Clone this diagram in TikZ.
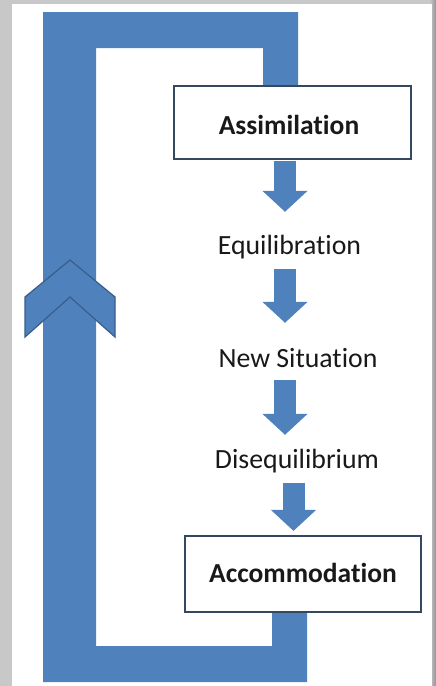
\documentclass[tikz,border=0pt]{standalone}
\usepackage{fontspec}
\setmainfont[Ligatures=NoCommon]{Carlito}
\usetikzlibrary{arrows.meta}
\definecolor{frameblue}{RGB}{79,129,189}
\definecolor{edgeblue}{RGB}{56,93,138}
\definecolor{boxedge}{RGB}{52,72,98}
\definecolor{marble}{RGB}{200,200,200}
\tikzset{
  lbl/.style={anchor=base, inner sep=0pt, text height=20pt, text depth=6pt,
    font=\fontsize{27.8}{32}\selectfont, text=black!90},
  stagebox/.style={draw=boxedge, line width=2.2pt, fill=white, inner sep=0pt},
  blockarrow/.style={draw=frameblue, line width=22pt,
    -{Triangle[width=44pt,length=21pt,fill=frameblue]}},
}
\begin{document}
\begin{tikzpicture}[x=1pt,y=-1pt]
\useasboundingbox (0,0) rectangle (436,686);
% background
\fill[marble] (0,0) rectangle (436,686);
\shade[left color=gray!45, right color=gray!85] (430,0) rectangle (436,686);
\fill[white] (12,4) rectangle (432,686);
% loop frame
\fill[frameblue] (298,90) -- (298,12) -- (43,12) -- (43,682) -- (307,682)
  -- (307,608) -- (272,608) -- (272,646) -- (96,646) -- (96,48) -- (263,48)
  -- (263,90) -- cycle;
% chevron
\filldraw[fill=frameblue, draw=edgeblue, line width=1.2pt, line join=miter]
  (70,260) -- (25,297) -- (25,337) -- (70,297) -- (115,337) -- (115,297) -- cycle;
% boxes
\node[stagebox, minimum width=237pt, minimum height=73pt] (asm) at (292.5,122.5) {};
\node[lbl, font=\fontsize{27.5}{32}\selectfont\bfseries] (asmt) at (289,134) {Assimilation};
\node[stagebox, minimum width=236pt, minimum height=76pt] (acc) at (303,574) {};
\node[lbl, font=\fontsize{27.5}{32}\selectfont\bfseries] (acct) at (303,582) {Accommodation};
% stages
\node[lbl] (eq) at (289.5,254) {Equilibration};
\node[lbl] (ns) at (298,367) {New Situation};
\node[lbl] (dis) at (297,468) {Disequilibrium};
% arrow columns
\coordinate (colA) at (285,0);
\coordinate (colB) at (293.5,0);
\draw[blockarrow, shorten <=1.1pt, shorten >=22pt] (asm.south -| colA) -- (eq.north -| colA);
\draw[blockarrow, shorten <=9pt, shorten >=24pt] (eq.south -| colA) -- (ns.north -| colA);
\draw[blockarrow, shorten <=7pt, shorten >=13pt] (ns.south -| colA) -- (dis.north -| colA);
\draw[blockarrow, shorten <=9pt, shorten >=4pt] (dis.south -| colB) -- (acc.north -| colB);
\end{tikzpicture}
\end{document}
